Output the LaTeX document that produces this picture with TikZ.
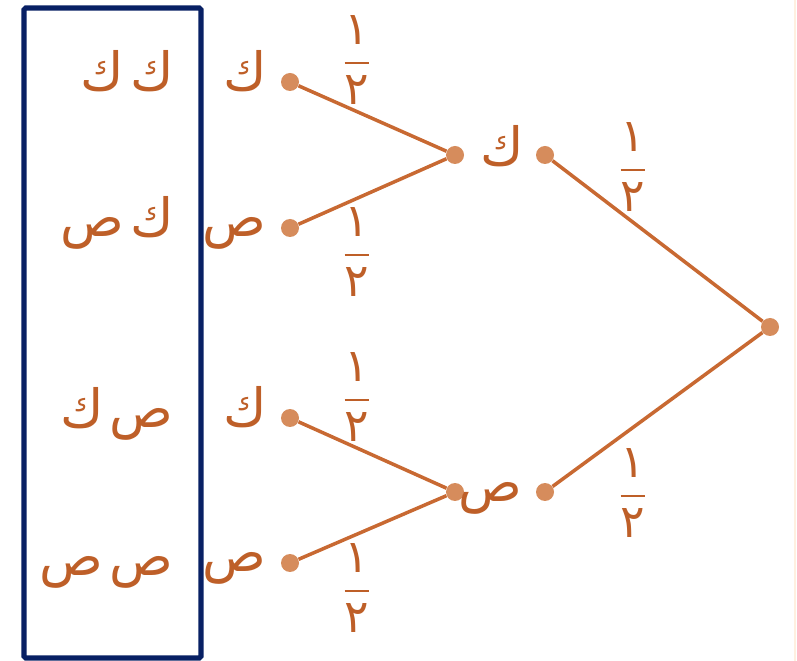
\documentclass[tikz,border=0pt]{standalone}
\usepackage{amsmath}
\usepackage{fontspec}
\newfontfamily\arabicfont[Script=Arabic]{DejaVu Sans}
\TeXXeTstate=1
\usepackage{tikz}
\usetikzlibrary{positioning}

\definecolor{branch}{RGB}{200,105,50}
\definecolor{dotfill}{RGB}{214,140,92}
\definecolor{letter}{RGB}{190,95,40}
\definecolor{frame}{RGB}{8,32,100}

\newcommand{\ar}[1]{{\arabicfont\beginR #1\endR}}
\newcommand{\pairAr}[2]{\ar{#1\hspace{0.12em}#2}}
\newcommand{\halfAr}{$\dfrac{\text{\arabicfont ١}}{\text{\arabicfont ٢}}$}

\begin{document}
\begin{tikzpicture}[x=0.02cm, y=-0.02cm,
    dot/.style={circle, fill=dotfill, inner sep=0pt, minimum size=0.36cm},
    branchline/.style={branch, line width=2pt},
    lbl/.style={text=letter, font=\fontsize{30}{34}\selectfont, inner sep=0pt},
    prob/.style={text=letter, font=\fontsize{26}{30}\selectfont, inner sep=0pt}]
  \useasboundingbox (0,0) rectangle (797,661);
  % frame of outcomes
  \draw[frame, line width=3pt, rounded corners=1pt] (24,8) rectangle (201,658);
  \draw[orange!12, line width=0.8pt] (795,0) -- (795,661);

  % root and first toss
  \node[dot] (root) at (770,327) {};
  \node[dot] (kR) at (545,155) {};
  \node[dot] (kL) at (455,155) {};
  \node[dot] (sR) at (545,492) {};
  \node[dot] (sL) at (455,492) {};
  \node[lbl, anchor=base] (kT) at (502,166) {\ar{ك}};
  \node[lbl, anchor=base] (sT) at (490,501) {\ar{ص}};

  % second toss
  \node[dot] (kk) at (290,82) {};
  \node[dot] (ks) at (290,228) {};
  \node[dot] (sk) at (290,418) {};
  \node[dot] (ss) at (290,563) {};
  \foreach \n/\t in {kk/ك, ks/ص, sk/ك, ss/ص}
    \node[lbl, anchor=base east] at ([xshift=-0.46cm, yshift=-0.18cm]\n) {\ar{\t}};

  % outcomes
  \node[lbl, anchor=base east] (o1) at (174,91) {\pairAr{ك}{ك}};
  \node[lbl, anchor=base east] (o2) at (174,237) {\pairAr{ك}{ص}};
  \node[lbl, anchor=base east] (o3) at (174,428) {\pairAr{ص}{ك}};
  \node[lbl, anchor=base east] (o4) at (174,575) {\pairAr{ص}{ص}};

  % branches
  \draw[branchline] (root) -- (kR);
  \draw[branchline] (root) -- (sR);
  \draw[branchline] (kL) -- (kk);
  \draw[branchline] (kL) -- (ks);
  \draw[branchline] (sL) -- (sk);
  \draw[branchline] (sL) -- (ss);

  % probabilities
  \foreach \x/\y in {357/60, 357/252, 357/397, 357/588, 633/167, 633/493}
    \node[prob] at (\x,\y) {\halfAr};
\end{tikzpicture}
\end{document}
